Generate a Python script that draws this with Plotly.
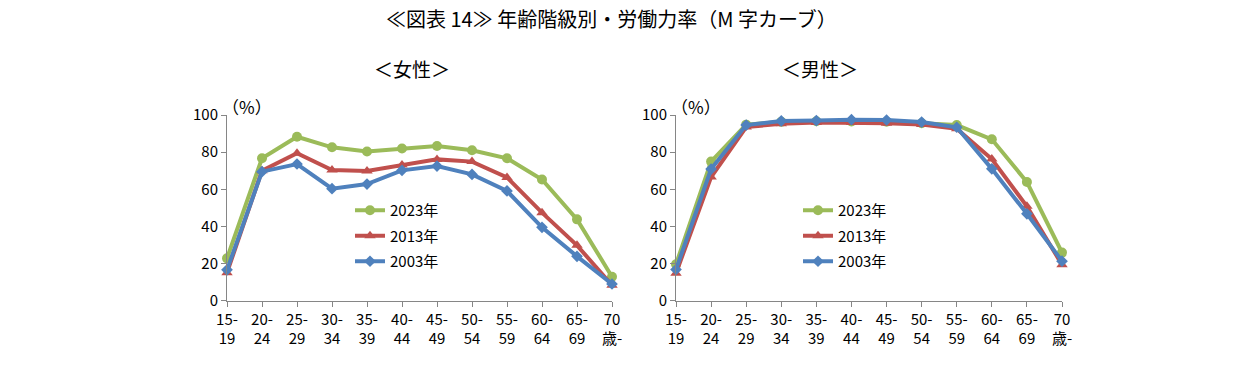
import plotly.graph_objects as go

ages = ["15-<br>19", "20-<br>24", "25-<br>29", "30-<br>34", "35-<br>39", "40-<br>44",
        "45-<br>49", "50-<br>54", "55-<br>59", "60-<br>64", "65-<br>69", "70<br>歳-"]
years = ["2023年", "2013年", "2003年"]

female_2023 = [22.8, 76.7, 88.3, 82.6, 80.3, 82.0, 83.3, 81.0, 76.7, 65.3, 43.8, 12.9]
female_2013 = [15.1, 70.0, 79.4, 70.4, 69.8, 73.1, 76.1, 74.9, 66.4, 47.4, 29.8, 8.3]
female_2003 = [16.6, 69.5, 73.6, 60.3, 62.8, 70.2, 72.5, 68.0, 59.1, 39.5, 23.9, 9.0]

male_2023 = [19.6, 74.9, 94.8, 96.3, 96.6, 96.5, 96.4, 95.6, 94.6, 86.9, 63.9, 25.9]
male_2013 = [14.8, 66.6, 93.5, 95.3, 95.9, 95.9, 95.6, 94.9, 92.6, 76.3, 50.8, 19.4]
male_2003 = [16.8, 70.9, 94.6, 96.8, 97.0, 97.5, 97.3, 96.2, 93.4, 71.0, 46.8, 21.3]

colors = {"2023年": "#9BBB59", "2013年": "#C0504D", "2003年": "#4F81BD"}
symbols = {"2023年": "circle", "2013年": "triangle-up", "2003年": "diamond"}
msize = {"2023年": 10, "2013年": 10, "2003年": 9}

xs = list(range(len(ages)))
fig = go.Figure()

panels = [
    ("x", "y", "legend", [female_2023, female_2013, female_2003]),
    ("x2", "y2", "legend2", [male_2023, male_2013, male_2003]),
]
for xa, ya, lg, series in panels:
    for yr, vals in zip(years, series):
        fig.add_trace(go.Scatter(
            x=xs, y=vals, name=yr, mode="lines+markers",
            line=dict(color=colors[yr], width=4),
            marker=dict(symbol=symbols[yr], size=msize[yr], color=colors[yr]),
            xaxis=xa, yaxis=ya, legend=lg, legendgroup=lg + yr,
            cliponaxis=False,
        ))

W, H = 1242, 376


def px_x(sx):
    return sx / W


def px_y(sy):
    return 1 - sy / H


font_main = "Noto Sans CJK JP, Arial, sans-serif"
tick_font = dict(size=15, color="black", family=font_main)
axis_common = dict(showgrid=False, zeroline=False, showline=True, linecolor="#868686",
                   linewidth=1, ticks="outside", tickcolor="#868686", ticklen=5,
                   automargin=False, tickfont=tick_font)

xd1 = [px_x(227), px_x(612)]
xd2 = [px_x(676), px_x(1062)]
yd = [px_y(300.7), px_y(115)]

leg_font = dict(size=15, family=font_main, color="black")

fig.update_layout(
    width=W, height=H,
    margin=dict(l=0, r=0, t=0, b=0),
    paper_bgcolor="white", plot_bgcolor="white",
    font=dict(family=font_main, color="black"),
    showlegend=True,
    xaxis=dict(domain=xd1, range=[0, 11], tickvals=xs, ticktext=ages, anchor="y", **axis_common),
    yaxis=dict(domain=yd, range=[0, 100], dtick=20, anchor="x", **axis_common),
    xaxis2=dict(domain=xd2, range=[0, 11], tickvals=xs, ticktext=ages, anchor="y2", **axis_common),
    yaxis2=dict(domain=yd, range=[0, 100], dtick=20, anchor="x2", **axis_common),
    legend=dict(x=px_x(350), y=px_y(194), xanchor="left", yanchor="top",
                bgcolor="rgba(0,0,0,0)", font=leg_font,
                traceorder="grouped", tracegroupgap=3),
    legend2=dict(x=px_x(798), y=px_y(194), xanchor="left", yanchor="top",
                 bgcolor="rgba(0,0,0,0)", font=leg_font,
                 traceorder="grouped", tracegroupgap=3),
    annotations=[
        dict(text="≪図表 14≫ 年齢階級別・労働力率（M 字カーブ）", x=px_x(611), y=px_y(19),
             xanchor="center", yanchor="middle",
             xref="paper", yref="paper", showarrow=False, font=dict(size=20)),
        dict(text="＜女性＞", x=px_x(412), y=px_y(68), xref="paper", yref="paper",
             xanchor="center", yanchor="middle", showarrow=False, font=dict(size=19)),
        dict(text="＜男性＞", x=px_x(820), y=px_y(68), xref="paper", yref="paper",
             xanchor="center", yanchor="middle", showarrow=False, font=dict(size=19)),
        dict(text="（%）", x=px_x(247), y=px_y(106), xref="paper", yref="paper",
             xanchor="center", yanchor="middle", showarrow=False, font=dict(size=17)),
        dict(text="（%）", x=px_x(696), y=px_y(106), xref="paper", yref="paper",
             xanchor="center", yanchor="middle", showarrow=False, font=dict(size=17)),
    ],
)

fig.write_html("out.html", config={"displayModeBar": False},
               post_script="document.body.style.margin='0';")
